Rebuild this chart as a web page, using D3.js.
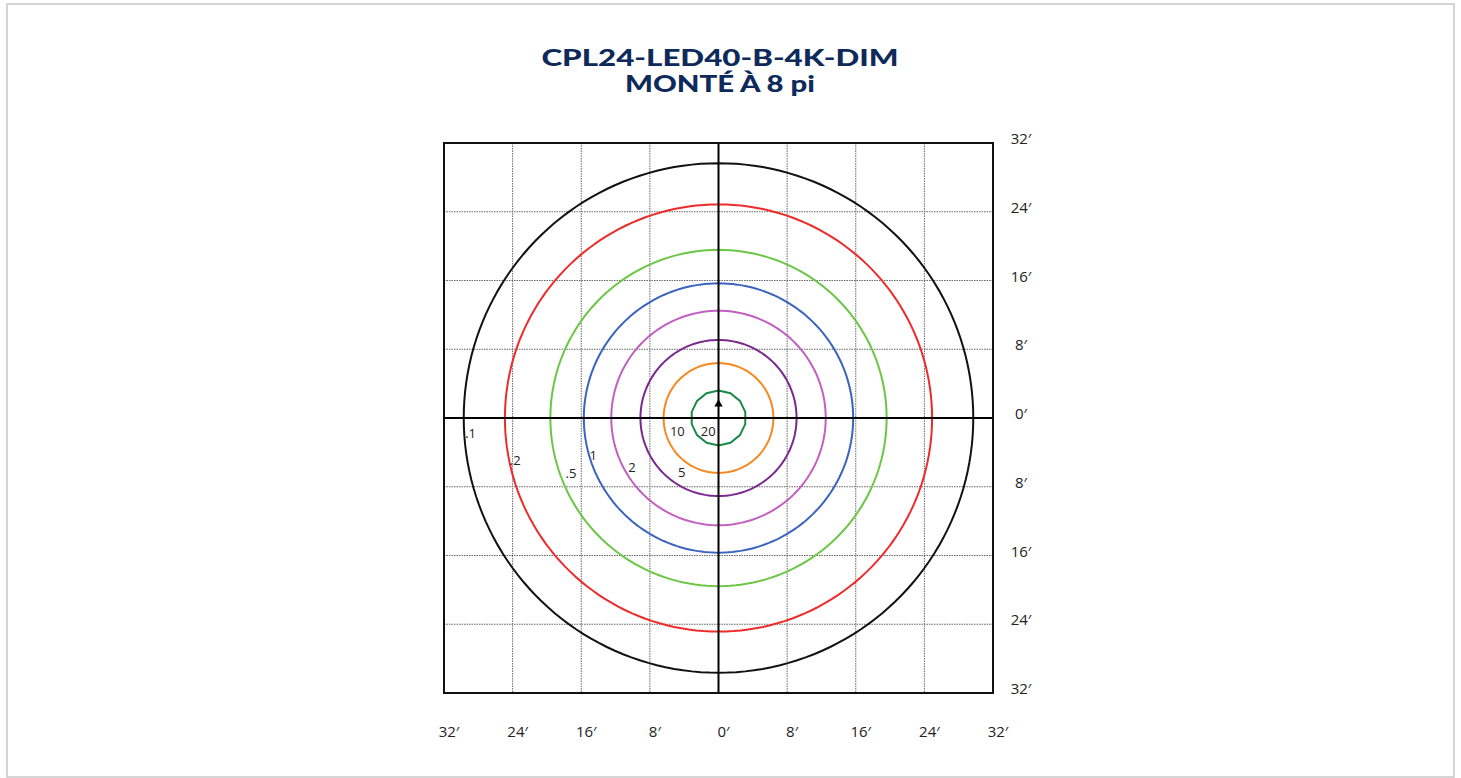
<!DOCTYPE html>
<html>
<head>
<meta charset="utf-8">
<script src="https://cdn.jsdelivr.net/npm/d3@7"></script>
<style>
  body { margin: 0; background: #fff; }
  svg { display: block; }
</style>
</head>
<body>
<svg id="chart" width="1461" height="778"></svg>
<script>
// Title lines and their widths in the picture
const titleLines = ["CPL24-LED40-B-4K-DIM", "MONTÉ À 8 pi"];
const titleWidths = [357, 190];

// Grid ticks (feet)
const ticks = [-32, -24, -16, -8, 0, 8, 16, 24, 32];
const tickLabels = ["32′", "24′", "16′", "8′", "0′", "8′", "16′", "24′", "32′"];

// Isofootcandle contours: label and radius in feet
const levels = [".1", ".2", ".5", "1", "2", "5", "10", "20"];
const radii = [29.7, 24.9, 19.6, 15.7, 12.5, 9.1, 6.4, 3.2];
const levelColors = ["#111111", "#ee2b2b", "#6cc644", "#3a64c0", "#c25fc0", "#7a2a8e", "#f7881f", "#1a8a4a"];

// where each label sits (feet, y up)
const labelAt = [[-28.9, -1.7], [-23.7, -4.9], [-17.2, -6.4], [-14.6, -4.3], [-10.1, -5.7], [-4.3, -6.3], [-4.8, -1.5], [-1.2, -1.5]];

const svg = d3.select("#chart");

// outer frame
svg.append("rect")
  .attr("x", 7).attr("y", 4)
  .attr("width", 1447).attr("height", 773)
  .attr("fill", "none")
  .attr("stroke", "#c8c8c8")
  .attr("stroke-width", 1.5);

// Title
svg.append("g").selectAll("text")
  .data(titleLines)
  .join("text")
  .attr("x", 720)
  .attr("y", (d, i) => 66 + i * 26)
  .attr("text-anchor", "middle")
  .attr("textLength", (d, i) => titleWidths[i])
  .attr("lengthAdjust", "spacingAndGlyphs")
  .style("font-family", "Lato, 'Open Sans', sans-serif")
  .style("font-weight", "900")
  .style("font-size", "22px")
  .attr("fill", "#0e2a5a")
  .text(d => d);

// Scales
const x = d3.scaleLinear().domain([-32, 32]).range([444, 993]);
const y = d3.scaleLinear().domain([32, -32]).range([143, 693]);

const plot = svg.append("g");

// dotted grid
const inner = ticks.filter(d => d !== 0 && Math.abs(d) !== 32);

plot.selectAll(".gx")
  .data(inner)
  .join("line")
  .attr("x1", d => x(d)).attr("x2", d => x(d))
  .attr("y1", y(32)).attr("y2", y(-32))
  .attr("stroke", "#666").attr("stroke-width", 1)
  .attr("stroke-dasharray", "1.5,1");

plot.selectAll(".gy")
  .data(inner)
  .join("line")
  .attr("y1", d => y(d)).attr("y2", d => y(d))
  .attr("x1", x(-32)).attr("x2", x(32))
  .attr("stroke", "#666").attr("stroke-width", 1)
  .attr("stroke-dasharray", "1.5,1");

// contours
const contours = levels.map((l, i) => ({ label: l, r: radii[i], color: levelColors[i] }));

const radial = d3.lineRadial().curve(d3.curveLinearClosed);

plot.selectAll(".contour")
  .data(contours)
  .join("path")
  .attr("class", "contour")
  .attr("transform", `translate(${x(0)},${y(0)})`)
  .attr("d", d => {
    const rp = x(d.r) - x(0);
    const n = d.label === "20" ? 14 : 180;
    return radial(d3.range(n).map(k => [k * 2 * Math.PI / n, rp]));
  })
  .attr("fill", "none")
  .attr("stroke", d => d.color)
  .attr("stroke-width", 2);

// center axes
plot.append("line")
  .attr("x1", x(-32)).attr("x2", x(32))
  .attr("y1", y(0)).attr("y2", y(0))
  .attr("stroke", "#000").attr("stroke-width", 2);
plot.append("line")
  .attr("x1", x(0)).attr("x2", x(0))
  .attr("y1", y(32)).attr("y2", y(-32))
  .attr("stroke", "#000").attr("stroke-width", 2);

// frame of plot
plot.append("rect")
  .attr("x", x(-32)).attr("y", y(32))
  .attr("width", x(32) - x(-32)).attr("height", y(-32) - y(32))
  .attr("fill", "none")
  .attr("stroke", "#111").attr("stroke-width", 2);

// luminaire marker
plot.append("path")
  .attr("d", d3.symbol(d3.symbolTriangle, 30))
  .attr("transform", `translate(${x(0)},${y(0) - 14})`)
  .attr("fill", "#000");

// contour labels
plot.selectAll(".lbl")
  .data(contours)
  .join("text")
  .attr("x", (d, i) => x(labelAt[i][0]))
  .attr("y", (d, i) => y(labelAt[i][1]))
  .attr("text-anchor", "middle")
  .attr("dominant-baseline", "central")
  .style("font-family", "'Open Sans', 'DejaVu Sans', sans-serif")
  .style("font-size", "13px")
  .attr("fill", "#222")
  .text(d => d.label);

// tick labels
svg.append("g").selectAll("text")
  .data(ticks)
  .join("text")
  .attr("x", 1021)
  .attr("y", d => y(d) - 5)
  .attr("text-anchor", "middle")
  .attr("dominant-baseline", "central")
  .style("font-family", "'Open Sans', 'DejaVu Sans', sans-serif")
  .style("font-size", "15px")
  .attr("fill", "#222")
  .text((d, i) => tickLabels[ticks.length - 1 - i]);

svg.append("g").selectAll("text")
  .data(ticks)
  .join("text")
  .attr("x", d => x(d) + 5)
  .attr("y", 731)
  .attr("text-anchor", "middle")
  .attr("dominant-baseline", "central")
  .style("font-family", "'Open Sans', 'DejaVu Sans', sans-serif")
  .style("font-size", "15px")
  .attr("fill", "#222")
  .text((d, i) => tickLabels[i]);
</script>
</body>
</html>
